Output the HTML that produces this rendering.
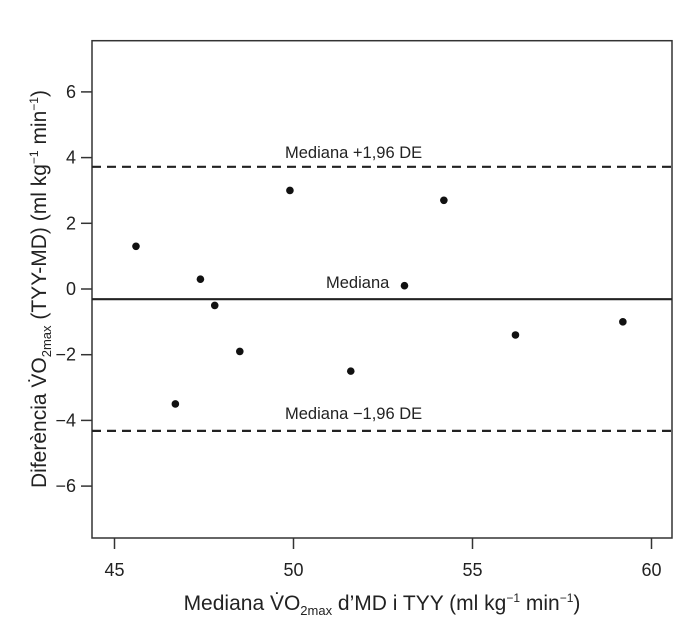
<!DOCTYPE html>
<html><head><meta charset="utf-8"><style>
body{margin:0;background:#fff;}
svg{display:block;font-family:"Liberation Sans",sans-serif;}
</style></head><body>
<svg id="chart" width="700" height="629" viewBox="0 0 700 629">
<rect x="92" y="40.7" width="580" height="497.3" fill="none" stroke="#333" stroke-width="1.5"/>
<g id="marks"></g>
<text x="382" y="610" font-size="21" text-anchor="middle" fill="#222">Mediana V̇O<tspan font-size="13" dy="5">2max</tspan><tspan dy="-5"> d’MD i TYY (ml kg</tspan><tspan font-size="12" dy="-8">−1</tspan><tspan dy="8"> min</tspan><tspan font-size="12" dy="-8">−1</tspan><tspan dy="8">)</tspan></text>
<text transform="translate(46,289) rotate(-90)" font-size="21" text-anchor="middle" fill="#222">Diferència V̇O<tspan font-size="13" dy="5">2max</tspan><tspan dy="-5"> (TYY-MD) (ml kg</tspan><tspan font-size="12" dy="-8">−1</tspan><tspan dy="8"> min</tspan><tspan font-size="12" dy="-8">−1</tspan><tspan dy="8">)</tspan></text>
</svg>
<script>
const xTicks=[45,50,55,60];
const yTicks=[-6,-4,-2,0,2,4,6];
const xVals=[45.6,46.7,47.4,47.8,48.5,49.9,51.6,53.1,54.2,56.2,59.2];
const yVals=[1.3,-3.5,0.3,-0.5,-1.9,3.0,-2.5,0.1,2.7,-1.4,-1.0];
const medianVal=[-0.31];
const upperVal=[3.72];
const lowerVal=[-4.32];
const lineLabels=["Mediana +1,96 DE","Mediana","Mediana −1,96 DE"];
const sx=v=>114.5+(v-45)*35.8;
const sy=v=>289-v*32.85;
const NS="http://www.w3.org/2000/svg";
const g=document.getElementById('marks');
function mk(t,a){const e=document.createElementNS(NS,t);for(const k in a)e.setAttribute(k,a[k]);g.appendChild(e);return e;}
xTicks.forEach(t=>{
 const l=mk('line',{x1:sx(t),x2:sx(t),y1:538,y2:549,stroke:'#333','stroke-width':1.5});
 
 
 const tx=mk('text',{x:sx(t),y:576,'font-size':18,'text-anchor':'middle',fill:'#222'});
 tx.textContent=t;
 
 
});
yTicks.forEach(t=>{
 const l=mk('line',{x1:81,x2:92,y1:sy(t),y2:sy(t),stroke:'#333','stroke-width':1.5});
 
 
 const tx=mk('text',{x:76,y:sy(t)+6,'font-size':18,'text-anchor':'end',fill:'#222'});
 tx.textContent=t<0?'−'+(-t):t;
 
 
});
const up=mk('line',{x1:92,x2:672,y1:sy(upperVal[0]),y2:sy(upperVal[0]),stroke:'#222','stroke-width':2.2,'stroke-dasharray':'9,6'});


const lo=mk('line',{x1:92,x2:672,y1:sy(lowerVal[0]),y2:sy(lowerVal[0]),stroke:'#222','stroke-width':2.2,'stroke-dasharray':'9,6'});


const md=mk('line',{x1:92,x2:672,y1:sy(medianVal[0]),y2:sy(medianVal[0]),stroke:'#222','stroke-width':2.2});


const l1=mk('text',{x:285,y:sy(upperVal[0])-9,'font-size':16.5,fill:'#222'});l1.textContent=lineLabels[0];


const l2=mk('text',{x:326,y:sy(medianVal[0])-11,'font-size':16.5,fill:'#222'});l2.textContent=lineLabels[1];


const l3=mk('text',{x:285,y:sy(lowerVal[0])-12,'font-size':16.5,fill:'#222'});l3.textContent=lineLabels[2];


xVals.forEach((x,i)=>{
 const c=mk('circle',{cx:sx(x),cy:sy(yVals[i]),r:3.8,fill:'#111'});
 
 
});
</script>
</body></html>
